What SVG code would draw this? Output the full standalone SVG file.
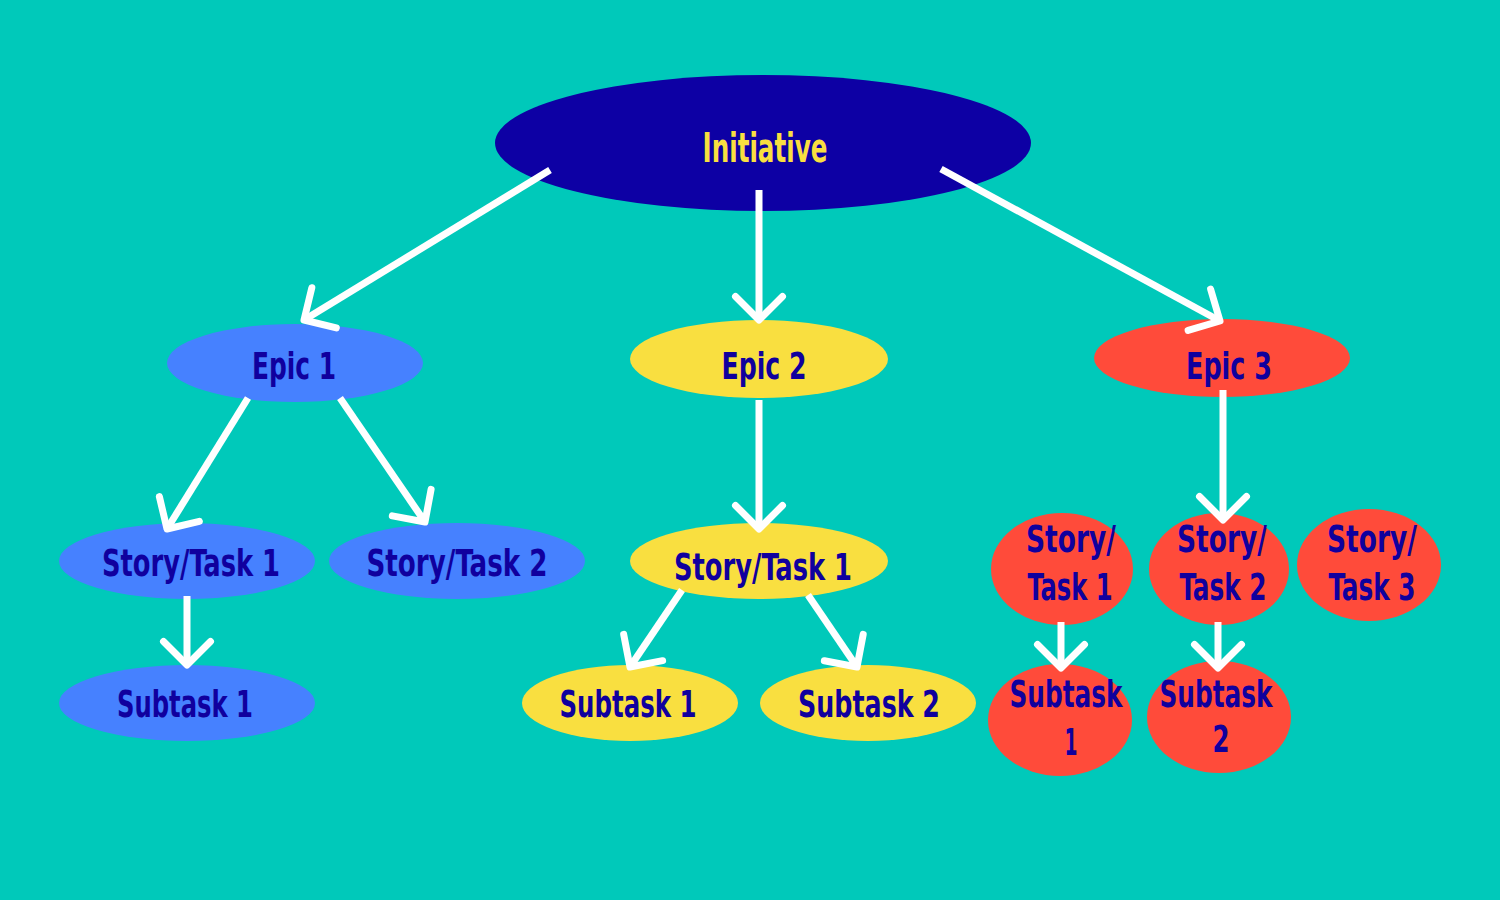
<svg xmlns="http://www.w3.org/2000/svg" width="1500" height="900" viewBox="0 0 1500 900">
<style>
.t{font-family:"Liberation Sans Narrow","DejaVu Sans Condensed","Liberation Sans",sans-serif;font-weight:bold;font-size:38px;fill:#10009E;text-anchor:middle}
.ti{fill:#F9DF40;font-size:40px}
.blue{fill:#4681FF}
.yel{fill:#F9DF40}
.red{fill:#FF4B3A}
.c{stroke:#FFFFFF;stroke-width:7;fill:none;marker-end:url(#ah)}
</style>
<defs>
<marker id="ah" markerUnits="userSpaceOnUse" markerWidth="60" markerHeight="60" viewBox="-30 -30 60 60" refX="0" refY="0" orient="auto" overflow="visible">
<path d="M-23.5,-23.5 L0,0 L-23.5,23.5" fill="none" stroke="#FFFFFF" stroke-width="7" stroke-linecap="round" stroke-linejoin="round"/>
</marker>
</defs>
<rect x="0" y="0" width="1500" height="900" fill="#00C9BA"/>

<g id="initiative">
<ellipse cx="763" cy="143" rx="268" ry="68" fill="#0D00A4"/>
<text class="t ti" x="765" y="162" textLength="125" lengthAdjust="spacingAndGlyphs">Initiative</text>
</g>

<g id="epic1">
<ellipse class="blue" cx="295" cy="363" rx="128" ry="39"/>
<text class="t" x="294" y="379" textLength="84" lengthAdjust="spacingAndGlyphs">Epic 1</text>
</g>
<g id="epic2">
<ellipse class="yel" cx="759" cy="359" rx="129" ry="39"/>
<text class="t" x="764" y="379" textLength="85" lengthAdjust="spacingAndGlyphs">Epic 2</text>
</g>
<g id="epic3">
<ellipse class="red" cx="1222" cy="358" rx="128" ry="39"/>
<text class="t" x="1229" y="379" textLength="86" lengthAdjust="spacingAndGlyphs">Epic 3</text>
</g>

<g id="e1-story1">
<ellipse class="blue" cx="187" cy="561" rx="128" ry="38"/>
<text class="t" x="191" y="576" textLength="178" lengthAdjust="spacingAndGlyphs">Story/Task 1</text>
</g>
<g id="e1-story2">
<ellipse class="blue" cx="457" cy="561" rx="128" ry="38"/>
<text class="t" x="457" y="576" textLength="181" lengthAdjust="spacingAndGlyphs">Story/Task 2</text>
</g>
<g id="e1-subtask1">
<ellipse class="blue" cx="187" cy="703" rx="128" ry="38"/>
<text class="t" x="185" y="717" textLength="136" lengthAdjust="spacingAndGlyphs">Subtask 1</text>
</g>

<g id="e2-story1">
<ellipse class="yel" cx="759" cy="561" rx="129" ry="38"/>
<text class="t" x="763" y="580" textLength="178" lengthAdjust="spacingAndGlyphs">Story/Task 1</text>
</g>
<g id="e2-subtask1">
<ellipse class="yel" cx="630" cy="703" rx="108" ry="38"/>
<text class="t" x="628" y="717" textLength="137" lengthAdjust="spacingAndGlyphs">Subtask 1</text>
</g>
<g id="e2-subtask2">
<ellipse class="yel" cx="868" cy="703" rx="108" ry="38"/>
<text class="t" x="869" y="717" textLength="142" lengthAdjust="spacingAndGlyphs">Subtask 2</text>
</g>

<g id="e3-story1">
<ellipse class="red" cx="1062" cy="569" rx="71" ry="56"/>
<text class="t" x="1071" y="552" textLength="90" lengthAdjust="spacingAndGlyphs">Story/</text>
<text class="t" x="1070" y="600" textLength="85" lengthAdjust="spacingAndGlyphs">Task 1</text>
</g>
<g id="e3-story2">
<ellipse class="red" cx="1219" cy="569" rx="70" ry="56"/>
<text class="t" x="1222" y="552" textLength="90" lengthAdjust="spacingAndGlyphs">Story/</text>
<text class="t" x="1223" y="600" textLength="87" lengthAdjust="spacingAndGlyphs">Task 2</text>
</g>
<g id="e3-story3">
<ellipse class="red" cx="1369" cy="565" rx="72" ry="56"/>
<text class="t" x="1372" y="552" textLength="90" lengthAdjust="spacingAndGlyphs">Story/</text>
<text class="t" x="1372" y="600" textLength="87" lengthAdjust="spacingAndGlyphs">Task 3</text>
</g>
<g id="e3-subtask1">
<ellipse class="red" cx="1060" cy="720" rx="72" ry="56"/>
<text class="t" x="1066" y="707" textLength="113" lengthAdjust="spacingAndGlyphs">Subtask</text>
<text class="t" x="1071" y="755" textLength="13" lengthAdjust="spacingAndGlyphs">1</text>
</g>
<g id="e3-subtask2">
<ellipse class="red" cx="1219" cy="717" rx="72" ry="56"/>
<text class="t" x="1216" y="707" textLength="113" lengthAdjust="spacingAndGlyphs">Subtask</text>
<text class="t" x="1221" y="752" textLength="17" lengthAdjust="spacingAndGlyphs">2</text>
</g>

<g id="connectors">
<path class="c" d="M550,170 L304,320"/>
<path class="c" d="M759,190 L759,320"/>
<path class="c" d="M941,169 L1220,321"/>
<path class="c" d="M248,398 L167,529"/>
<path class="c" d="M340,398 L425,522"/>
<path class="c" d="M759,400 L759,529"/>
<path class="c" d="M1223,390 L1223,520"/>
<path class="c" d="M187,596 L187,665"/>
<path class="c" d="M682,590 L630,667"/>
<path class="c" d="M808,595 L857,667"/>
<path class="c" d="M1061,622 L1061,668"/>
<path class="c" d="M1218,622 L1218,668"/>
</g>
</svg>
